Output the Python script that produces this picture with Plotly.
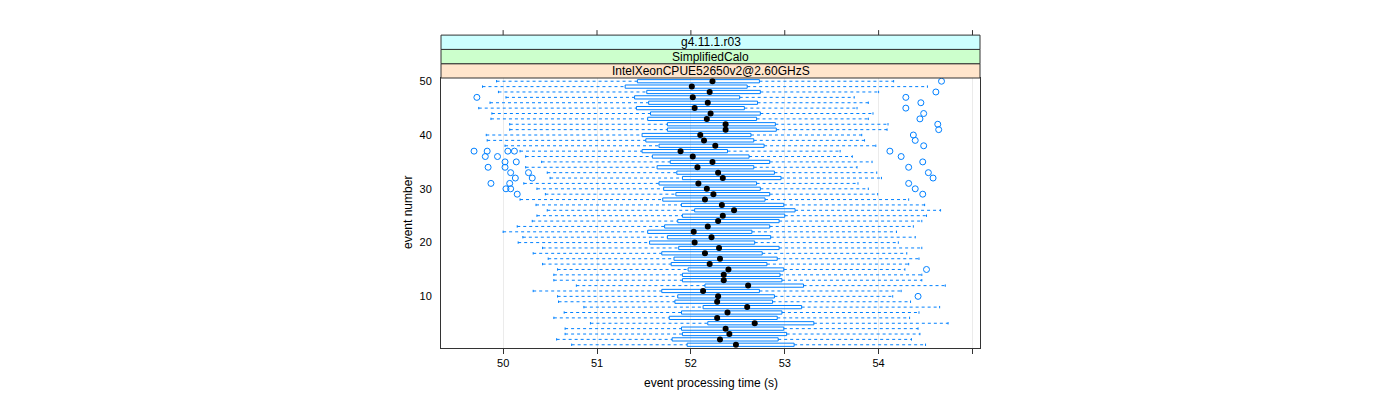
import plotly.graph_objects as go

# ---------------- data ----------------
events = list(range(1, 51))
lows = [50.73, 50.57, 50.66, 50.66, 50.93, 50.54, 50.65, 50.86, 50.59, 50.58,
        50.32, 50.78, 50.54, 50.54, 50.58, 50.42, 50.48, 50.32, 50.42, 50.16,
        50.21, 50.00, 50.15, 50.31, 50.36, 50.47, 50.35, 50.18, 50.45, 50.36,
        50.22, 50.50, 50.47, 50.24, 50.41, 50.24, 50.18, 50.02, 49.83, 49.82,
        50.07, 50.07, 49.87, 49.88, 49.74, 49.86, 50.03, 49.95, 49.78, 49.93]
q1s = [51.96, 51.80, 51.91, 51.90, 52.18, 51.77, 51.90, 52.13, 51.83, 51.86,
       51.69, 52.15, 51.91, 51.91, 51.97, 51.79, 51.82, 51.69, 51.87, 51.56,
       51.75, 51.54, 51.72, 51.86, 51.91, 52.04, 51.90, 51.70, 51.84, 51.71,
       51.66, 51.91, 51.85, 51.64, 51.78, 51.59, 51.48, 51.66, 51.52, 51.48,
       51.75, 51.75, 51.54, 51.57, 51.42, 51.55, 51.40, 51.53, 51.30, 51.43]
medians = [52.48, 52.31, 52.41, 52.37, 52.68, 52.28, 52.39, 52.60, 52.28, 52.29,
           52.13, 52.61, 52.35, 52.35, 52.40, 52.20, 52.31, 52.15, 52.30, 52.04,
           52.22, 52.03, 52.18, 52.29, 52.34, 52.46, 52.33, 52.15, 52.24, 52.17,
           52.08, 52.34, 52.29, 52.07, 52.23, 52.02, 51.89, 52.26, 52.14, 52.10,
           52.37, 52.37, 52.17, 52.21, 52.04, 52.18, 52.02, 52.20, 52.01, 52.23]
q3s = [53.10, 52.93, 53.02, 52.99, 53.31, 52.92, 52.97, 53.18, 52.87, 52.89,
       52.73, 53.20, 52.97, 52.95, 52.99, 52.81, 52.92, 52.76, 52.94, 52.68,
       52.85, 52.65, 52.84, 52.94, 53.00, 53.11, 52.99, 52.79, 52.84, 52.74,
       52.70, 52.96, 52.89, 52.67, 52.84, 52.62, 52.39, 52.78, 52.67, 52.64,
       52.91, 52.90, 52.70, 52.74, 52.57, 52.71, 52.52, 52.74, 52.60, 52.73]
highs = [54.50, 54.35, 54.44, 54.42, 54.74, 54.33, 54.43, 54.65, 54.34, 54.15,
         54.24, 54.71, 54.46, 54.46, 54.28, 54.32, 54.43, 54.30, 54.46, 54.21,
         54.39, 54.19, 54.37, 54.46, 54.51, 54.66, 54.49, 54.32, 53.99, 53.89,
         53.78, 54.03, 53.98, 53.77, 53.93, 53.72, 53.59, 53.97, 53.85, 53.82,
         54.09, 54.10, 53.89, 53.94, 53.77, 53.89, 53.74, 54.00, 54.52, 54.16]
outlier_events = [47, 47, 50, 48, 46, 45, 44, 43, 42, 41, 40, 39, 38,
                  37, 37, 37, 37, 37, 36, 36, 36, 35, 35, 35, 34, 34, 34,
                  33, 33, 33, 32, 32, 32, 31, 31, 31, 30, 30, 30, 29, 29, 15, 10]
outlier_values = [49.72, 54.29, 54.67, 54.61, 54.45, 54.29, 54.48, 54.44, 54.63, 54.64,
                  54.37, 54.39, 54.48,
                  49.69, 49.83, 50.05, 50.12, 54.12, 49.81, 49.94, 54.24,
                  50.02, 50.14, 54.47, 49.84, 50.02, 54.32,
                  50.08, 50.27, 54.53, 50.13, 50.31, 54.58, 49.87, 50.07, 54.32,
                  50.03, 50.08, 54.39, 50.15, 54.47, 54.51, 54.42]
x_ticks = [50, 51, 52, 53, 54, 55]
x_tick_labels = ["50", "51", "52", "53", "54", ""]
y_ticks = [10, 20, 30, 40, 50]
strip_labels = ["IntelXeonCPUE52650v2@2.60GHzS", "SimplifiedCalo", "g4.11.1.r03"]
strip_colors = ["#ffe5cc", "#ccffcc", "#ccffff"]

BLUE = "#0080ff"
BOX_H = 0.30
CAP_H = 0.22
FONT = "Liberation Sans, Arial, sans-serif"

# ---------------- build geometry from data ----------------
bx, by, wx, wy, cx, cy = [], [], [], [], [], []
for e, lo, a, m, b, hi in zip(events, lows, q1s, medians, q3s, highs):
    bx += [a, b, b, a, a, None]
    by += [e - BOX_H, e - BOX_H, e + BOX_H, e + BOX_H, e - BOX_H, None]
    wx += [lo, a, None, b, hi, None]
    wy += [e, e, None, e, e, None]
    cx += [lo, lo, None, hi, hi, None]
    cy += [e - CAP_H, e + CAP_H, None, e - CAP_H, e + CAP_H, None]

fig = go.Figure()
fig.add_trace(go.Scatter(x=wx, y=wy, mode="lines",
                         line=dict(color=BLUE, width=1, dash="3px,3px"),
                         hoverinfo="skip", showlegend=False))
fig.add_trace(go.Scatter(x=cx, y=cy, mode="lines",
                         line=dict(color=BLUE, width=1),
                         hoverinfo="skip", showlegend=False))
fig.add_trace(go.Scatter(x=bx, y=by, mode="lines",
                         line=dict(color=BLUE, width=1),
                         hoverinfo="skip", showlegend=False))
fig.add_trace(go.Scatter(x=outlier_values, y=outlier_events, mode="markers",
                         marker=dict(symbol="circle-open", size=6,
                                     color=BLUE, line=dict(width=1, color=BLUE)),
                         showlegend=False))
fig.add_trace(go.Scatter(x=medians, y=events, mode="markers",
                         marker=dict(symbol="circle", size=6, color="black"),
                         showlegend=False))

# ---------------- layout ----------------
# page body has an 8px margin, so the figure origin is at (8, 8)
OFF = 8
W, H = 1400, 400
PL, PR, PT, PB = 441, 980, 78, 348          # target panel edges in the page
L, T = PL - OFF, PT - OFF
R = W - L - (PR - PL)
B = H - T - (PB - PT)
ph = PB - PT
strip_h = 14.3 / ph
strip_base = 1.0

shapes = []
annotations = []
for i, (lab, col) in enumerate(zip(strip_labels, strip_colors)):
    y0 = strip_base + i * strip_h
    y1 = y0 + strip_h
    shapes.append(dict(type="rect", xref="paper", yref="paper", x0=0, x1=1,
                       y0=y0, y1=y1, fillcolor=col, line=dict(color="#333333", width=1),
                       layer="above"))
    annotations.append(dict(text=lab, xref="paper", yref="paper", x=0.5,
                            y=(y0 + y1) / 2, showarrow=False, xanchor="center",
                            yanchor="middle", font=dict(family=FONT, size=12, color="black")))
top_y = strip_base + 3 * strip_h
for t in x_ticks:
    shapes.append(dict(type="line", xref="x", yref="paper", x0=t, x1=t,
                       y0=top_y, y1=top_y + 5 / ph, line=dict(color="#333333", width=1)))

annotations.append(dict(text="event processing time (s)", xref="paper", yref="paper",
                        x=0.5, y=-(383 - PB) / ph, showarrow=False,
                        xanchor="center", yanchor="middle",
                        font=dict(family=FONT, size=12, color="black")))
annotations.append(dict(text="event number", xref="paper", yref="paper",
                        x=-(PL - 408) / (PR - PL), y=0.5, showarrow=False, textangle=-90,
                        xanchor="center", yanchor="middle",
                        font=dict(family=FONT, size=12, color="black")))

fig.update_layout(
    width=W, height=H, autosize=False,
    margin=dict(l=L, r=R, t=T, b=B, pad=0),
    paper_bgcolor="white", plot_bgcolor="white",
    shapes=shapes, annotations=annotations,
    font=dict(family=FONT, size=11, color="black"),
    xaxis=dict(range=[49.338, 55.08], tickvals=x_ticks, ticktext=x_tick_labels,
               ticks="outside", ticklen=5, tickcolor="#333333",
               showgrid=True, gridcolor="#ebebeb", gridwidth=1, zeroline=False,
               showline=True, linecolor="#333333", linewidth=1, mirror=True,
               tickfont=dict(family=FONT, size=11, color="black")),
    yaxis=dict(range=[0.4, 50.6], tickvals=y_ticks, ticks="",
               showgrid=False, zeroline=False, ticklabelstandoff=6,
               showline=True, linecolor="#333333", linewidth=1, mirror=True,
               tickfont=dict(family=FONT, size=11, color="black")),
)

fig.write_html("out.html")
